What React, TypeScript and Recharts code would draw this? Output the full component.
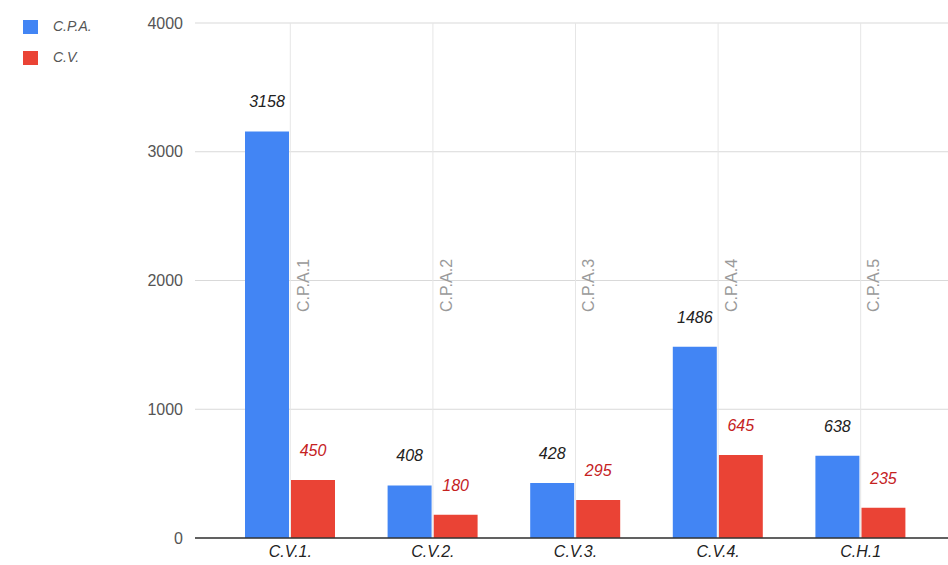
import { BarChart, Bar, XAxis, YAxis, CartesianGrid, LabelList, ReferenceLine } from "recharts"

const categories = ["C.V.1.", "C.V.2.", "C.V.3.", "C.V.4.", "C.H.1"]
const cpaValues = [3158, 408, 428, 1486, 638]
const cvValues = [450, 180, 295, 645, 235]
const cpaNotes = ["C.P.A.1", "C.P.A.2", "C.P.A.3", "C.P.A.4", "C.P.A.5"]
const yTicks = [0, 1000, 2000, 3000, 4000]

const data = categories.map((name, i) => ({
  name,
  cpa: cpaValues[i],
  cv: cvValues[i],
}))

const FONT = "Arial, 'Liberation Sans', sans-serif"
const BLUE = "#4285f4"
const RED = "#ea4335"

// rotated annotation text sitting right of the category line
const NoteLabel = (props: any) => {
  const vb = props.viewBox ?? props
  const { x, y, width, height } = vb
  const idx = props.index ?? 0
  const tx = x + width + 20
  const ty = y + height - 226
  return (
    <text
      x={tx}
      y={ty}
      transform={`rotate(-90 ${tx} ${ty})`}
      fill="#9a9a9a"
      fontSize={16}
      fontFamily={FONT}
    >
      {cpaNotes[idx]}
    </text>
  )
}

export default function App() {
  return (
    <div style={{ position: "absolute", left: 0, top: 0, width: 948, height: 565, background: "#fff", fontFamily: FONT }}>
      {/* legend */}
      <div style={{ position: "absolute", left: 23, top: 20, width: 15, height: 14, background: BLUE }} />
      <div style={{ position: "absolute", left: 53, top: 18, fontSize: 14, fontStyle: "italic", color: "#555" }}>C.P.A.</div>
      <div style={{ position: "absolute", left: 23, top: 51, width: 15, height: 14, background: RED }} />
      <div style={{ position: "absolute", left: 53, top: 49, fontSize: 14, fontStyle: "italic", color: "#555" }}>C.V.</div>

      <BarChart
        width={948}
        height={565}
        data={data}
        margin={{ top: 23, right: 0, bottom: 0, left: 0 }}
        barSize={44}
        barGap={2}
      >
        <CartesianGrid horizontal={true} vertical={false} stroke="#d9d9d9" />
        {categories.map((c) => (
          <ReferenceLine key={c} x={c} stroke="#e6e6e6" />
        ))}
        <XAxis
          dataKey="name"
          height={27}
          padding={{ left: 24, right: 16 }}
          axisLine={{ stroke: "#333", strokeWidth: 1.5 }}
          tickLine={false}
          tickMargin={2}
          tick={{ fontSize: 16, fontStyle: "italic", fill: "#222", fontFamily: FONT }}
        />
        <YAxis
          width={195}
          domain={[0, 4000]}
          ticks={yTicks}
          axisLine={false}
          tickLine={false}
          tickMargin={6}
          tick={{ fontSize: 16, fill: "#555", fontFamily: FONT }}
        />
        <Bar dataKey="cpa" fill={BLUE} isAnimationActive={false}>
          <LabelList
            dataKey="cpa"
            position="top"
            offset={24}
            style={{ fontSize: 16, fontStyle: "italic", fill: "#222", fontFamily: FONT }}
          />
          <LabelList dataKey="cpa" content={NoteLabel} />
        </Bar>
        <Bar dataKey="cv" fill={RED} isAnimationActive={false}>
          <LabelList
            dataKey="cv"
            position="top"
            offset={24}
            style={{ fontSize: 16, fontStyle: "italic", fill: "#c5221f", fontFamily: FONT }}
          />
        </Bar>
      </BarChart>
    </div>
  )
}
